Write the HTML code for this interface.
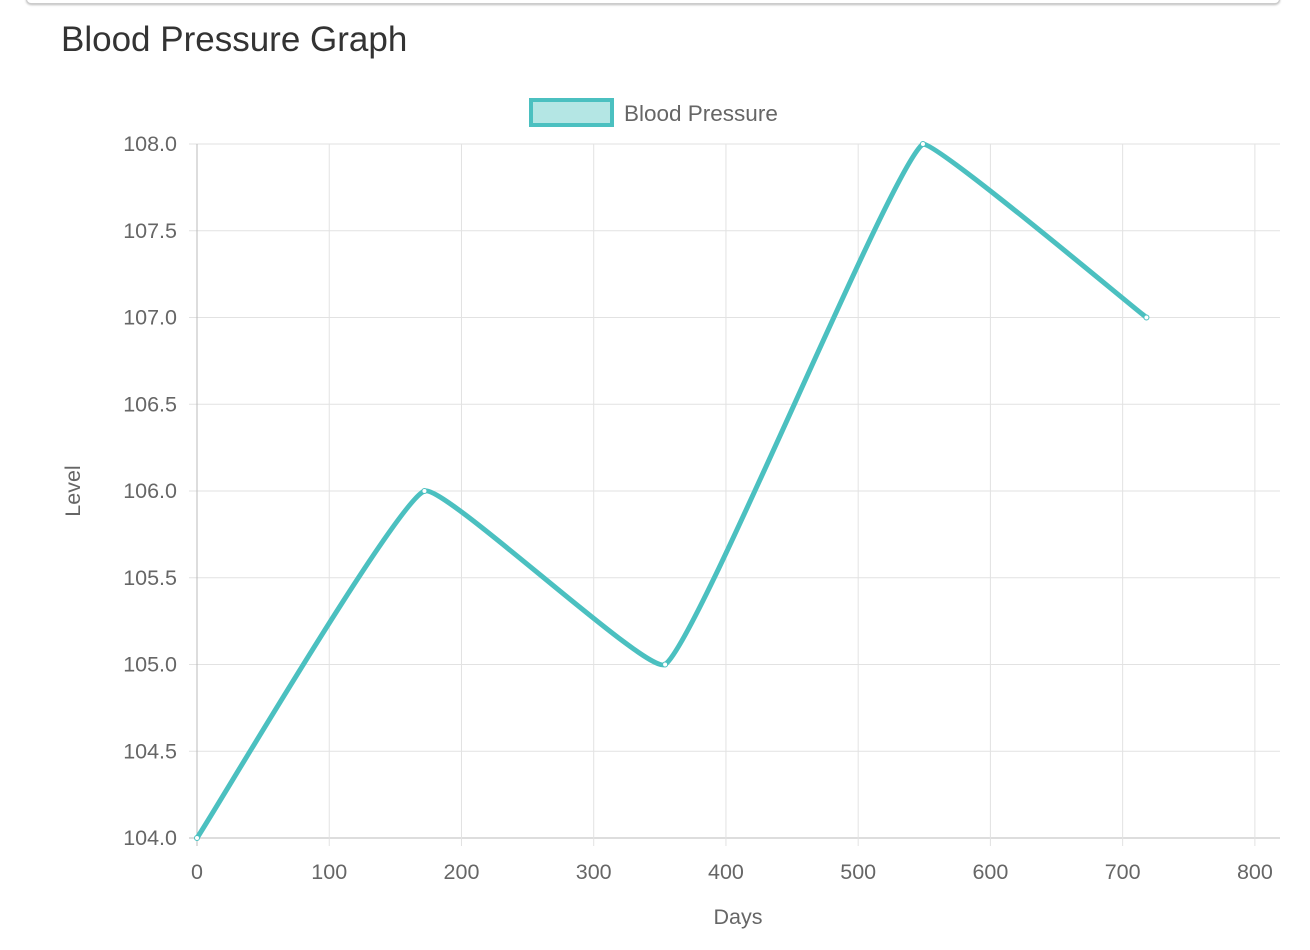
<!DOCTYPE html>
<html><head><meta charset="utf-8"><style>
body{margin:0;background:#fff;width:1310px;height:950px;overflow:hidden;font-family:"Liberation Sans",sans-serif;}
#topbar{position:absolute;left:26px;top:-6px;width:1252px;height:8px;border-radius:6px;background:#fff;border:1px solid #ccc;box-shadow:0 1px 2px #bbb;}
#title{position:absolute;left:61px;top:20px;font-size:35px;color:#333;letter-spacing:0px;}
svg{position:absolute;left:0;top:0;}
</style></head><body>
<div id="topbar"></div>
<div id="title">Blood Pressure Graph</div>
<svg id="chart" width="1310" height="950"></svg>
<script>
const days=[0,172,354,549,718];
const levels=[104,106,105,108,107];
const xTicks=[0,100,200,300,400,500,600,700,800];
const yTicks=[104.0,104.5,105.0,105.5,106.0,106.5,107.0,107.5,108.0];
const L=197,R=1280,T=144,B=838,xMax=819,yMin=104,yMax=108;
const sx=v=>L+v/xMax*(R-L);
const sy=v=>B-(v-yMin)/(yMax-yMin)*(B-T);
const svg=document.getElementById('chart');
const NS='http://www.w3.org/2000/svg';
function mk(tag,attrs,parent){const e=document.createElementNS(NS,tag);for(const k in attrs)e.setAttribute(k,attrs[k]);(parent||svg).appendChild(e);return e;}
const grid=mk('g',{});


yTicks.forEach(t=>{
  const y=sy(t);
  const l=mk('line',{x1:L-8,x2:R,y1:y,y2:y,stroke:t===yMin?'#bbb':'#e2e2e2','stroke-width':1},grid);
  
  
  const tx=mk('text',{x:L-20,y:y+7,'text-anchor':'end','font-size':'21.5',fill:'#666'});
  tx.textContent=t.toFixed(1);
  
  
});
xTicks.forEach(t=>{
  const x=sx(t);
  const l=mk('line',{x1:x,x2:x,y1:T,y2:B+8,stroke:t===0?'#bbb':'#e2e2e2','stroke-width':1},grid);
  
  
  const tx=mk('text',{x:x,y:B+41,'text-anchor':'middle','font-size':'21.5',fill:'#666'});
  tx.textContent=t;
  
  
});
const xt=mk('text',{x:738,y:924,'text-anchor':'middle','font-size':'21.5',fill:'#666'});
xt.textContent='Days';


const yt=mk('text',{x:0,y:0,'text-anchor':'middle','font-size':'21.5',fill:'#666',transform:'translate(80,491) rotate(-90)'});
yt.textContent='Level';


const lb=mk('rect',{x:531,y:100,width:81,height:25,fill:'#b4e6e4',stroke:'#4bc0c0','stroke-width':4});


const lt=mk('text',{x:624,y:121,'font-size':'22.5',fill:'#666'});
lt.textContent='Blood Pressure';


const pts=days.map((d,i)=>[sx(d),sy(levels[i])]);
const ten=0.1;
const cps=pts.map((p,i)=>{
  const prev=pts[i-1]||p,next=pts[i+1]||p;
  const d01=Math.hypot(p[0]-prev[0],p[1]-prev[1]),d12=Math.hypot(next[0]-p[0],next[1]-p[1]);
  let fa=d01/(d01+d12)||0,fb=d12/(d01+d12)||0;
  fa*=ten;fb*=ten;
  return {p:[p[0]-fa*(next[0]-prev[0]),p[1]-fa*(next[1]-prev[1])],n:[p[0]+fb*(next[0]-prev[0]),p[1]+fb*(next[1]-prev[1])]};
});
cps.forEach(c=>{c.p[1]=Math.min(B,Math.max(T,c.p[1]));c.n[1]=Math.min(B,Math.max(T,c.n[1]));});
let d='M'+pts[0][0]+','+pts[0][1];
for(let i=1;i<pts.length;i++){d+=` C${cps[i-1].n[0]},${cps[i-1].n[1]} ${cps[i].p[0]},${cps[i].p[1]} ${pts[i][0]},${pts[i][1]}`;}
const line=mk('path',{d:d,fill:'none',stroke:'#4bc0c0','stroke-width':5,'stroke-linejoin':'round'});


pts.forEach(p=>{
  const c=mk('circle',{cx:p[0],cy:p[1],r:2.5,fill:'#fff',stroke:'#4bc0c0','stroke-width':1});
  
  
});
</script>
</body></html>
